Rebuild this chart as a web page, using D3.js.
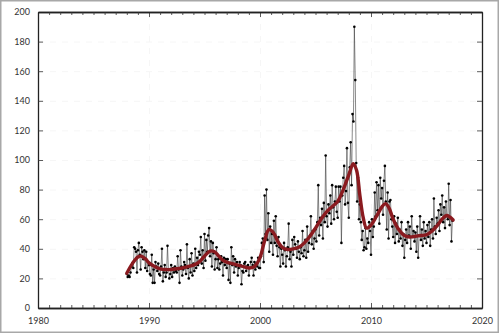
<!DOCTYPE html>
<html><head><meta charset="utf-8">
<script src="https://cdn.jsdelivr.net/npm/d3@7"></script>
<style>
html,body{margin:0;padding:0;background:#fff;}
svg{display:block;}
text{font-family:Lato,"DejaVu Sans",sans-serif;}
</style></head>
<body><svg id="chart" width="500" height="334"></svg>
<script>
// Monthly series, January 1988 onward
const startYear = 1988;
const monthlyValues = [
  23, 21, 22, 21, 24, 28, 30, 27, 41, 40, 38, 24,   // 1988
  39, 44, 36, 26, 41, 38, 33, 39, 27, 38, 25, 31,   // 1989
  29, 23, 22, 36, 17, 26, 17, 31, 28, 25, 30, 23,   // 1990
  22, 28, 40, 18, 24, 29, 21, 24, 42, 26, 20, 23,   // 1991
  29, 21, 27, 24, 28, 25, 24, 35, 26, 17, 39, 28,   // 1992
  22, 26, 31, 29, 23, 43, 27, 20, 33, 24, 37, 22,   // 1993
  30, 25, 40, 27, 34, 29, 38, 36, 48, 30, 39, 27,   // 1994
  50, 32, 46, 38, 49, 54, 35, 45, 28, 44, 37, 26,   // 1995
  33, 41, 27, 33, 26, 30, 35, 31, 22, 34, 29, 33,   // 1996
  27, 33, 19, 30, 17, 41, 29, 35, 24, 33, 28, 31,   // 1997
  22, 27, 31, 29, 16, 25, 24, 30, 31, 25, 28, 29,   // 1998
  22, 27, 31, 34, 29, 22, 31, 26, 30, 28, 34, 27,   // 1999
  27, 35, 44, 47, 31, 76, 50, 80, 46, 64, 38, 55,   // 2000
  44, 50, 36, 59, 44, 62, 42, 35, 48, 41, 28, 40,   // 2001
  36, 30, 44, 39, 28, 35, 41, 57, 33, 38, 28, 46,   // 2002
  36, 48, 43, 40, 34, 45, 38, 33, 41, 37, 52, 35,   // 2003
  39, 46, 34, 55, 38, 44, 49, 62, 43, 52, 40, 47,   // 2004
  53, 45, 58, 83, 49, 61, 56, 67, 47, 71, 58, 103,  // 2005
  62, 55, 70, 64, 76, 57, 83, 68, 60, 72, 82, 65,   // 2006
  61, 82, 72, 82, 44, 76, 88, 96, 70, 79, 108, 71,  // 2007
  61, 95, 112, 83, 131, 126, 190, 154, 98, 72, 88, 60, // 2008
  70, 58, 46, 52, 39, 41, 54, 40, 47, 44, 58, 52,   // 2009
  36, 60, 48, 55, 78, 62, 85, 66, 83, 57, 88, 74,   // 2010
  81, 63, 86, 96, 72, 53, 78, 47, 72, 73, 60, 55,   // 2011
  48, 62, 44, 57, 50, 61, 45, 53, 47, 58, 42, 50,   // 2012
  34, 46, 53, 44, 58, 49, 55, 40, 62, 48, 52, 45,   // 2013
  51, 38, 55, 34, 49, 62, 46, 53, 42, 58, 47, 52,   // 2014
  44, 56, 48, 58, 42, 53, 60, 47, 74, 55, 50, 61,   // 2015
  57, 66, 52, 70, 63, 76, 58, 68, 54, 72, 62, 60,   // 2016
  84, 56, 73, 45, 59                                // 2017
];

// Smoothed trend
const trendYears  = [1988.0, 1988.5, 1989.0, 1989.3, 1989.7, 1990.0, 1990.5, 1991.0, 1991.5, 1992.0, 1992.5, 1993.0, 1993.5, 1994.0, 1994.5, 1995.0, 1995.5, 1995.9, 1996.3, 1996.7, 1997.0, 1997.5, 1998.0, 1998.5, 1999.0, 1999.5, 2000.0, 2000.4, 2000.8, 2001.2, 2001.6, 2002.0, 2002.5, 2003.0, 2003.5, 2004.0, 2004.5, 2005.0, 2005.5, 2006.0, 2006.5, 2007.0, 2007.5, 2008.0, 2008.4, 2008.7, 2009.0, 2009.3, 2009.6, 2010.0, 2010.5, 2011.0, 2011.3, 2011.6, 2012.0, 2012.5, 2013.0, 2013.5, 2014.0, 2014.5, 2015.0, 2015.5, 2016.0, 2016.4, 2016.8, 2017.1, 2017.4];
const trendValues = [23.5, 30, 34.5, 35, 33, 30.5, 28, 26.5, 26, 26, 26.5, 27, 28, 29, 31, 35, 38.5, 38, 35, 32, 31, 30, 29, 28, 27, 28, 34, 45, 53, 51, 45, 41, 39.5, 40, 41, 44, 48.5, 54, 60, 65, 68.5, 72, 80, 90, 97.5, 93, 76, 61, 54, 56, 62, 68.5, 70.5, 68, 60, 53, 49, 48, 48.5, 49, 49.5, 52, 56, 60, 62.5, 61.5, 59.5];

const xTicks = [1980, 1990, 2000, 2010, 2020];
const yTicks = [0, 20, 40, 60, 80, 100, 120, 140, 160, 180, 200];

const svg = d3.select("#chart");
const L = 38, R = 482, T = 12, B = 308;
const x = d3.scaleLinear().domain([1980, 2020]).range([L, R]);
const y = d3.scaleLinear().domain([0, 200]).range([B, T]);

// outer frame
svg.append("rect").attr("x", 0.75).attr("y", 0.75).attr("width", 497.5).attr("height", 331.5)
  .attr("fill", "none").attr("stroke", "#a8a8a8").attr("stroke-width", 1.5);

// faint grid
const grid = svg.append("g").attr("stroke", "#f6f6f6").attr("stroke-width", 1).attr("stroke-dasharray", "6,6");
grid.selectAll("line.h").data(yTicks.slice(1, -1)).join("line")
  .attr("x1", L).attr("x2", R).attr("y1", d => y(d) + 0.5).attr("y2", d => y(d) + 0.5);
grid.selectAll("line.v").data(xTicks.slice(1, -1)).join("line")
  .attr("y1", T).attr("y2", B).attr("x1", d => x(d) + 0.5).attr("x2", d => x(d) + 0.5);

// data
const pts = monthlyValues.map((v, i) => ({t: startYear + i / 12, v}));
svg.append("path").datum(pts)
  .attr("fill", "none").attr("stroke", "#3a3a3a").attr("stroke-width", 0.6)
  .attr("d", d3.line().x(d => x(d.t)).y(d => y(d.v)));
svg.append("g").selectAll("circle").data(pts).join("circle")
  .attr("cx", d => x(d.t)).attr("cy", d => y(d.v)).attr("r", 1.3).attr("fill", "#000");

const trend = trendYears.map((t, i) => ({t, v: trendValues[i]}));
svg.append("path").datum(trend)
  .attr("fill", "none").attr("stroke", "#8a1a1f").attr("stroke-width", 3.4)
  .attr("stroke-linecap", "round").attr("stroke-linejoin", "round")
  .attr("d", d3.line().curve(d3.curveCatmullRom.alpha(0.5)).x(d => x(d.t)).y(d => y(d.v)));

// axes (box with inward ticks)
const tickSize = 5, minorSize = 3;
const minorYears = d3.range(1981, 2020).filter(yy => yy % 10 !== 0);

const axBottom = svg.append("g").attr("transform", `translate(0,${B})`)
  .call(d3.axisBottom(x).tickValues(xTicks).tickFormat(d3.format("d")).tickSizeInner(-tickSize).tickSizeOuter(0).tickPadding(10));
const axTop = svg.append("g").attr("transform", `translate(0,${T})`)
  .call(d3.axisTop(x).tickValues(xTicks).tickFormat("").tickSizeInner(-tickSize).tickSizeOuter(0));
const axLeft = svg.append("g").attr("transform", `translate(${L},0)`)
  .call(d3.axisLeft(y).tickValues(yTicks).tickFormat(d3.format("d")).tickSizeInner(-tickSize).tickSizeOuter(0).tickPadding(8));
const axRight = svg.append("g").attr("transform", `translate(${R},0)`)
  .call(d3.axisRight(y).tickValues(yTicks).tickFormat("").tickSizeInner(-tickSize).tickSizeOuter(0));
const axBMinor = svg.append("g").attr("transform", `translate(0,${B})`)
  .call(d3.axisBottom(x).tickValues(minorYears).tickFormat("").tickSizeInner(-minorSize).tickSizeOuter(0));
const axTMinor = svg.append("g").attr("transform", `translate(0,${T})`)
  .call(d3.axisTop(x).tickValues(minorYears).tickFormat("").tickSizeInner(-minorSize).tickSizeOuter(0));

[axBottom, axTop, axLeft, axRight, axBMinor, axTMinor].forEach(g => {
  g.select(".domain").attr("stroke", "#222").attr("stroke-width", 1.3);
  g.selectAll(".tick line").attr("stroke", "#333").attr("stroke-width", 0.8);
  g.selectAll(".tick text").attr("fill", "#333").attr("font-size", 9)
    .attr("font-family", "Lato, 'DejaVu Sans', sans-serif");
});
</script>
</body></html>
